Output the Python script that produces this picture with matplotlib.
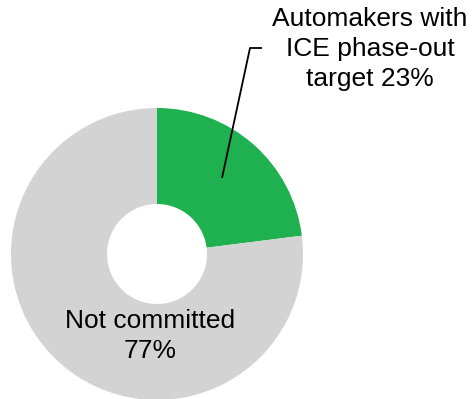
import matplotlib.pyplot as plt

plt.rcParams['font.family'] = ['Liberation Sans', 'DejaVu Sans']

# Share of automakers with an ICE phase-out target
labels = ['Automakers with\nICE phase-out\ntarget 23%', 'Not committed\n77%']
shares = [23, 77]
colors = ['#1fb150', '#d3d3d3']

fig = plt.figure(figsize=(4.74, 3.99), dpi=100)
ax = fig.add_axes([0, 0, 1, 1])

outer = 146
inner = 50
ax.pie(shares, colors=colors, startangle=90, counterclock=False,
       center=(157, 145), radius=outer,
       wedgeprops=dict(width=outer - inner, linewidth=0))

ax.set_xlim(0, 474)
ax.set_ylim(0, 399)
ax.set_aspect('equal')
ax.axis('off')

# leader line for the green slice
ax.plot([222, 250, 262], [221, 351, 351], color='black', lw=1.3,
        solid_capstyle='butt')

ax.text(370, 350, labels[0], ha='center', va='center', fontsize=19,
        linespacing=1.3)
ax.text(150, 63, labels[1], ha='center', va='center', fontsize=19,
        linespacing=1.3)

fig.savefig('out.png', dpi=100)
